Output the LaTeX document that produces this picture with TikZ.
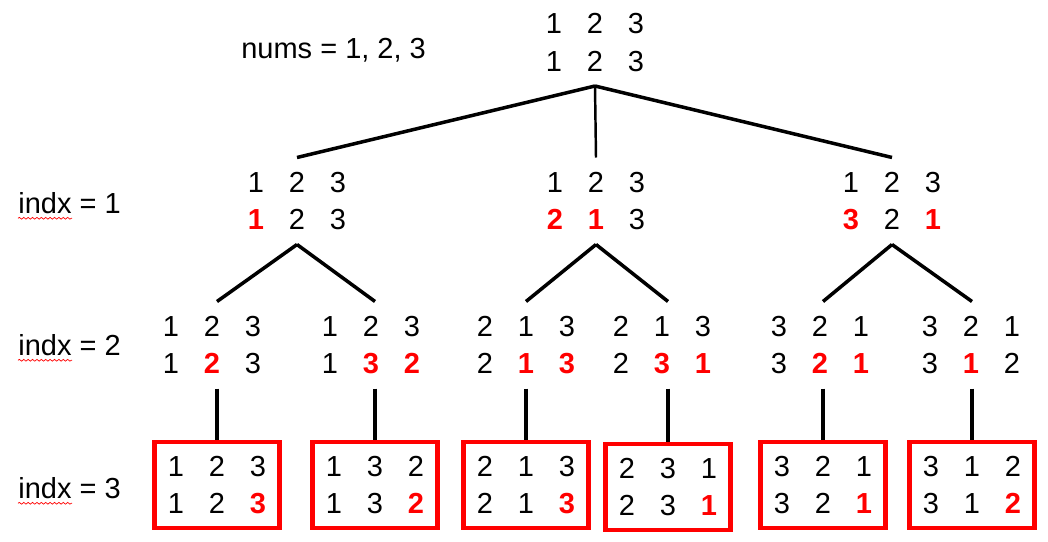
\documentclass[tikz,border=0pt]{standalone}
\usepackage{fontspec}
\setmainfont{Liberation Sans}
\usepackage{xcolor}
\definecolor{permred}{RGB}{255,0,0}
\usepackage{tikz}
\usetikzlibrary{decorations.pathmorphing}
\newcommand{\hl}[1]{\textcolor{permred}{\textbf{#1}}}
\newcommand{\prow}[3]{\makebox[0.82cm]{#1}\makebox[0.82cm]{#2}\makebox[0.82cm]{#3}}
\newcommand{\perm}[6]{\prow{#1}{#2}{#3}\\\prow{#4}{#5}{#6}}
\tikzset{
  perm node/.style={align=center, inner xsep=2pt, inner ysep=0.28cm, font=\fontsize{16.5}{21.5}\selectfont},
  perm leaf/.style={draw=permred, line width=2.6pt, minimum width=2.5cm, minimum height=1.72cm, align=center, inner sep=0pt, font=\fontsize{16.5}{21.5}\selectfont},
  tree edge/.style={line width=2pt},
  level label/.style={anchor=base west, inner sep=0pt, font=\fontsize{16.5}{18}\selectfont},
  spell mark/.style={permred, line width=0.4pt, decorate, decoration={snake, amplitude=0.5pt, segment length=2.5pt}},
}

\begin{document}
\begin{tikzpicture}[x=0.02cm, y=-0.02cm]
  \useasboundingbox (0,0) rectangle (1048,541);
  % labels on the left
  \node[level label] (nums) at (241,58) {nums = 1,~2,~3};
  \node[level label] (lx1) at (18,213) {indx~=~1};
  \node[level label] (lx2) at (18,355) {indx~=~2};
  \node[level label] (lx3) at (18,498) {indx~=~3};
  \draw[spell mark] ([yshift=-3pt]lx1.base west) -- ++(54,0);
  \draw[spell mark] ([yshift=-3pt]lx2.base west) -- ++(54,0);
  \draw[spell mark] ([yshift=-3pt]lx3.base west) -- ++(54,0);

  % root
  \node[perm node] (root) at (595,42.5) {\perm{1}{2}{3}{1}{2}{3}};

  % indx = 1
  \node[perm node] (a1) at (297,201) {\perm{1}{2}{3}{\hl{1}}{2}{3}};
  \node[perm node] (a2) at (596,201) {\perm{1}{2}{3}{\hl{2}}{\hl{1}}{3}};
  \node[perm node] (a3) at (892,201) {\perm{1}{2}{3}{\hl{3}}{2}{\hl{1}}};

  % indx = 2
  \node[perm node] (b1) at (212,345) {\perm{1}{2}{3}{1}{\hl{2}}{3}};
  \node[perm node] (b2) at (371,345) {\perm{1}{2}{3}{1}{\hl{3}}{\hl{2}}};
  \node[perm node] (b3) at (526,345) {\perm{2}{1}{3}{2}{\hl{1}}{\hl{3}}};
  \node[perm node] (b4) at (662,345) {\perm{2}{1}{3}{2}{\hl{3}}{\hl{1}}};
  \node[perm node] (b5) at (820,345) {\perm{3}{2}{1}{3}{\hl{2}}{\hl{1}}};
  \node[perm node] (b6) at (971,345) {\perm{3}{2}{1}{3}{\hl{1}}{2}};

  % indx = 3
  \node[perm leaf] (c1) at (217,485) {\perm{1}{2}{3}{1}{2}{\hl{3}}};
  \node[perm leaf] (c2) at (375,485) {\perm{1}{3}{2}{1}{3}{\hl{2}}};
  \node[perm leaf] (c3) at (526,485) {\perm{2}{1}{3}{2}{1}{\hl{3}}};
  \node[perm leaf] (c4) at (668,487) {\perm{2}{3}{1}{2}{3}{\hl{1}}};
  \node[perm leaf] (c5) at (823,485) {\perm{3}{2}{1}{3}{2}{\hl{1}}};
  \node[perm leaf] (c6) at (972,485) {\perm{3}{1}{2}{3}{1}{\hl{2}}};

  \draw[tree edge] (root.south) -- (a1.north);
  \draw[tree edge, line width=1.4pt] (root.south) -- (a2.north);
  \draw[tree edge] (root.south) -- (a3.north);
  \draw[tree edge] (a1.south) -- (b1.north -| c1.north);
  \draw[tree edge] (a1.south) -- (b2.north -| c2.north);
  \draw[tree edge] (a2.south) -- (b3.north -| c3.north);
  \draw[tree edge] (a2.south) -- (b4.north -| c4.north);
  \draw[tree edge] (a3.south) -- (b5.north -| c5.north);
  \draw[tree edge] (a3.south) -- (b6.north -| c6.north);
  \draw[tree edge] (b1.south -| c1.north) -- (c1.north);
  \draw[tree edge] (b2.south -| c2.north) -- (c2.north);
  \draw[tree edge] (b3.south -| c3.north) -- (c3.north);
  \draw[tree edge] (b4.south -| c4.north) -- (c4.north);
  \draw[tree edge] (b5.south -| c5.north) -- (c5.north);
  \draw[tree edge] (b6.south -| c6.north) -- (c6.north);
\end{tikzpicture}
\end{document}
